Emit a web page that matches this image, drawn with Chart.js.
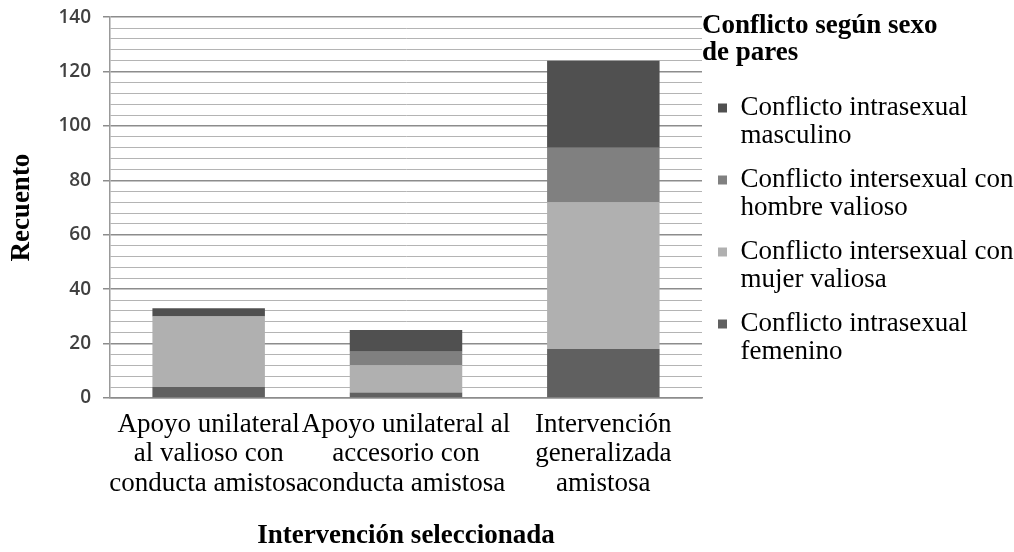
<!DOCTYPE html>
<html>
<head>
<meta charset="utf-8">
<script src="https://cdn.jsdelivr.net/npm/chart.js@4"></script>
<style>
  body { margin: 0; background: #fff; }
  #wrap { width: 1014px; height: 552px; }
</style>
</head>
<body>
<div id="wrap"><canvas id="chart"></canvas></div>
<script>
// Intervención seleccionada x Conflicto según sexo de pares
const categories = [
  ['Apoyo unilateral', 'al valioso con', 'conducta amistosa'],
  ['Apoyo unilateral al', 'accesorio con', 'conducta amistosa'],
  ['Intervención', 'generalizada', 'amistosa'],
];
const femenino      = [4, 2, 18];
const mujerValiosa  = [26, 10, 54];
const hombreValioso = [0, 5, 20];
const masculino     = [3, 8, 32];

const legendTitle = ['Conflicto según sexo', 'de pares'];
const seriesNames = [
  ['Conflicto intrasexual', 'femenino'],
  ['Conflicto intersexual con', 'mujer valiosa'],
  ['Conflicto intersexual con', 'hombre valioso'],
  ['Conflicto intrasexual', 'masculino'],
];
const seriesColors = ['#606060', '#b0b0b0', '#808080', '#505050'];
const yTitle = 'Recuento';
const xTitle = 'Intervención seleccionada';

const SERIF = "'Liberation Serif', 'Times New Roman', serif";
const MAJOR = 20;

const seriesValues = [femenino, mujerValiosa, hombreValioso, masculino];

new Chart(document.getElementById('chart'), {
  type: 'bar',
  data: {
    labels: categories,
    datasets: seriesValues.map((vals, i) => ({
      label: seriesNames[i],
      data: vals,
      backgroundColor: seriesColors[i],
      borderWidth: 0,
      barPercentage: 0.57,
      categoryPercentage: 1.0,
    })),
  },
  options: {
    responsive: true,
    maintainAspectRatio: false,
    animation: false,
    layout: { padding: { top: 12, right: 0, bottom: 0, left: 0 } },
    plugins: {
      tooltip: { enabled: false },
      legend: {
        position: 'right',
        align: 'start',
        reverse: true,
        maxWidth: 312,
        title: {
          display: true,
          text: legendTitle,
          position: 'start',
          color: '#000',
          font: { family: SERIF, size: 27, weight: 'bold', lineHeight: 1.0 },
          padding: { top: 0.5, bottom: 39 },
        },
        labels: {
          boxWidth: 9,
          boxHeight: 9,
          padding: 16,
          color: '#000',
          font: { family: SERIF, size: 27, lineHeight: 28 / 27 },
        },
      },
    },
    scales: {
      x: {
        stacked: true,
        grid: { display: false, drawTicks: false },
        border: { display: true, color: '#8c8c8c', width: 1.5 },
        ticks: {
          color: '#000',
          autoSkip: false,
          maxRotation: 0,
          minRotation: 0,
          padding: 11.75,
          font: { family: SERIF, size: 27, lineHeight: 29.5 / 27 },
        },
        title: {
          display: true,
          text: xTitle,
          color: '#000',
          font: { family: SERIF, size: 27, weight: 'bold', lineHeight: 1.2 },
          padding: { top: 9.6, bottom: 0 },
        },
      },
      y: {
        stacked: true,
        min: 0,
        max: 140,
        grid: {
          color: (ctx) => (ctx.tick && ctx.tick.value % MAJOR === 0 ? '#8c8c8c' : '#b4b4b4'),
          lineWidth: (ctx) => (ctx.tick && ctx.tick.value % MAJOR === 0 ? 1.5 : 1),
          tickColor: (ctx) => (ctx.tick && ctx.tick.value % MAJOR === 0 ? '#8c8c8c' : 'rgba(0,0,0,0)'),
          tickLength: 7,
        },
        border: { display: true, color: '#999', width: 1.5 },
        ticks: {
          stepSize: 4,
          autoSkip: false,
          padding: 12,
          color: '#404040',
          font: { family: "'Open Sans', sans-serif", size: 19, weight: '600', lineHeight: 0.55 },
          callback: (v) => (v % MAJOR === 0 ? v : ''),
        },
        title: {
          display: true,
          text: yTitle,
          color: '#000',
          font: { family: SERIF, size: 27, weight: 'bold', lineHeight: 1.2 },
          padding: { top: 6, bottom: 8 },
        },
      },
    },
  },
});
</script>
</body>
</html>
